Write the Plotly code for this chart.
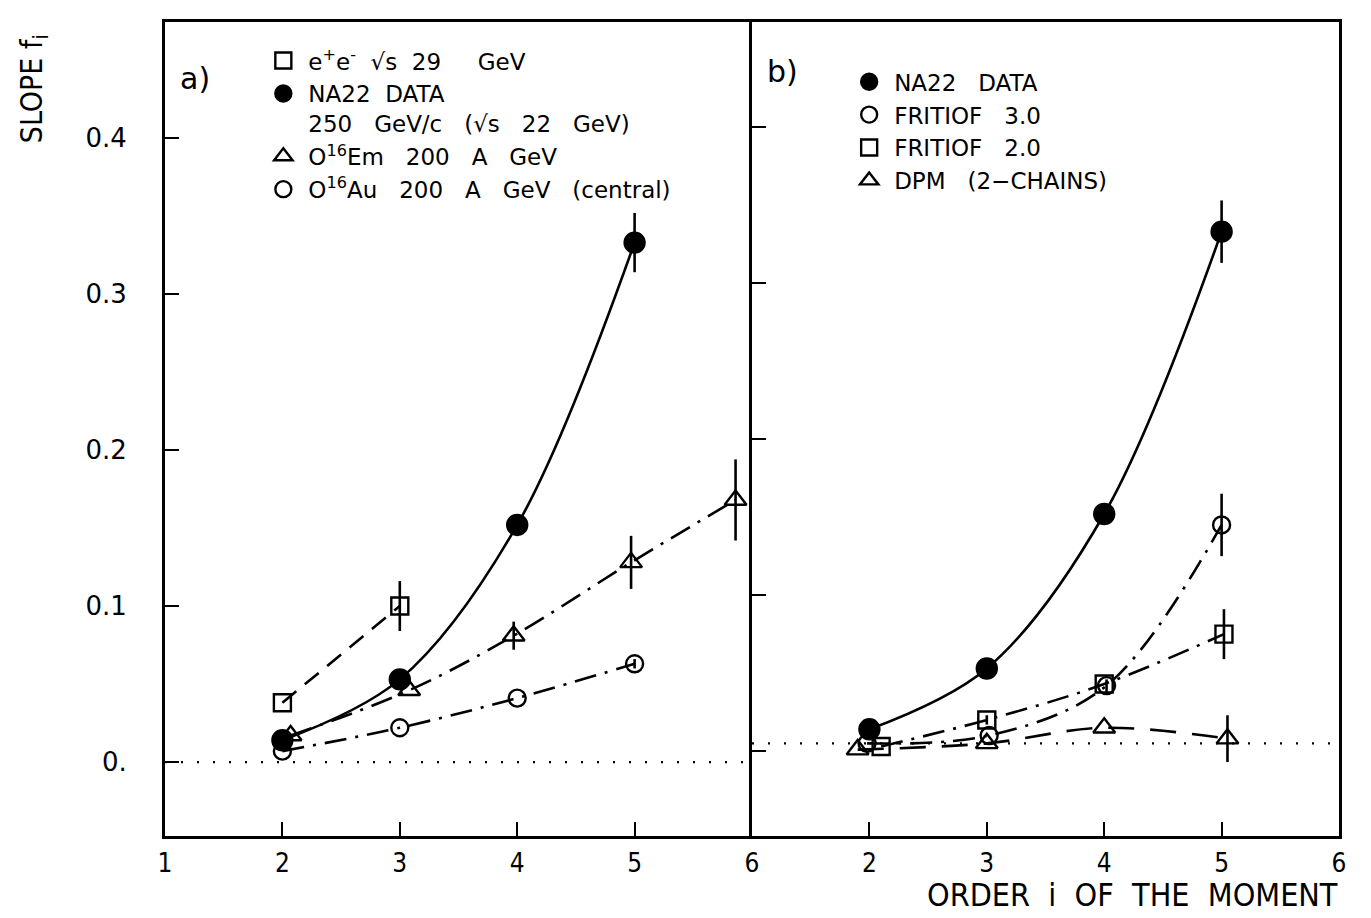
import plotly.graph_objects as go

# ---------------- data ----------------
# panel a
ee_x = [2, 3]
ee_y = [0.038, 0.100]
ee_err = [0.0, 0.016]

na22_x = [2, 3, 4, 5]
na22_y = [0.014, 0.053, 0.152, 0.333]
na22_err = [0.002, 0.003, 0.005, 0.019]

em_x = [2.07, 3.08, 3.97, 4.97, 5.86]
em_y = [0.017, 0.046, 0.081, 0.128, 0.168]
em_err = [0.0, 0.0, 0.009, 0.017, 0.026]

au_x = [2, 3, 4, 5]
au_y = [0.007, 0.022, 0.041, 0.063]
au_err = [0.0, 0.0, 0.0, 0.003]

# panel b
na22b_err = [0.002, 0.003, 0.005, 0.020]

fr3_x = [1.98, 3.02, 4.02, 5.0]
fr3_y = [0.005, 0.010, 0.042, 0.145]
fr3_err = [0.0, 0.0, 0.004, 0.020]

fr2_x = [2.1, 3.0, 4.0, 5.02]
fr2_y = [0.003, 0.020, 0.043, 0.075]
fr2_err = [0.0, 0.003, 0.0, 0.016]

dpm_x = [1.9, 3.0, 4.0, 5.05]
dpm_y = [0.001, 0.005, 0.015, 0.008]
dpm_err = [0.0, 0.0, 0.0, 0.015]

zero_x = [1, 6]
zero_a = [0.0, 0.0]
zero_b = [0.005, 0.005]

x_ticks_a = [1, 2, 3, 4, 5, 6]
x_ticks_b = [2, 3, 4, 5, 6]
y_ticks = [0.0, 0.1, 0.2, 0.3, 0.4]
y_tick_text = ["0.", "0.1", "0.2", "0.3", "0.4"]

legend_a = ["e<sup>+</sup>e<sup>-</sup>  √s  29     GeV",
            "NA22  DATA<br>250   GeV/c   (√s   22   GeV)",
            "O<sup>16</sup>Em   200   A   GeV",
            "O<sup>16</sup>Au   200   A   GeV   (central)"]
legend_b = ["NA22   DATA", "FRITIOF   3.0", "FRITIOF   2.0", "DPM   (2−CHAINS)"]

# ---------------- styling ----------------
BLACK = "#000000"
FONT = "DejaVu Sans"
COND = "DejaVu Sans Condensed, Liberation Sans Narrow, Roboto Condensed, DejaVu Sans"
LW = 2.6

fig = go.Figure()


def err(vals):
    return dict(type="data", array=vals, visible=True, color=BLACK, thickness=2.6, width=0)


def series(x, y, e, symbol, size, dash, xa, ya, shape="spline"):
    fig.add_trace(go.Scatter(
        x=x, y=y, mode="lines+markers", xaxis=xa, yaxis=ya,
        line=dict(color=BLACK, width=LW, dash=dash, shape=shape, smoothing=1.0),
        marker=dict(symbol=symbol, size=size, color=BLACK,
                    line=dict(color=BLACK, width=2.4)),
        error_y=err(e), showlegend=False, hoverinfo="skip"))


# dotted zero lines
fig.add_trace(go.Scatter(x=zero_x, y=zero_a, mode="lines", xaxis="x", yaxis="y",
                         line=dict(color=BLACK, width=2.2, dash="2px,14px"),
                         showlegend=False, hoverinfo="skip"))
fig.add_trace(go.Scatter(x=zero_x, y=zero_b, mode="lines", xaxis="x2", yaxis="y2",
                         line=dict(color=BLACK, width=2.2, dash="2px,14px"),
                         showlegend=False, hoverinfo="skip"))

DASH = "18px,11px"
DASHDOT = "22px,9px,3px,9px"
LONGDASH = "26px,16px"

# panel a
series(au_x, au_y, au_err, "circle-open", 17, DASHDOT, "x", "y")
series(em_x, em_y, em_err, "triangle-up-open", 19, DASHDOT, "x", "y")
series(ee_x, ee_y, ee_err, "square-open", 17, DASH, "x", "y", shape="linear")
series(na22_x, na22_y, na22_err, "circle", 20, "solid", "x", "y")

# panel b
series(dpm_x, dpm_y, dpm_err, "triangle-up-open", 19, LONGDASH, "x2", "y2")
series(fr2_x, fr2_y, fr2_err, "square-open", 17, DASHDOT, "x2", "y2")
series(fr3_x, fr3_y, fr3_err, "circle-open", 17, DASHDOT, "x2", "y2")
series(na22_x, na22_y, na22b_err, "circle", 20, "solid", "x2", "y2")

# legend-only entries (markers only)
sym_a = ["square-open", "circle", "triangle-up-open", "circle-open"]
sym_b = ["circle", "circle-open", "square-open", "triangle-up-open"]
for name, s in zip(legend_a, sym_a):
    fig.add_trace(go.Scatter(x=[None], y=[None], mode="markers", name=name, legend="legend",
                             marker=dict(symbol=s, size=16, color=BLACK,
                                         line=dict(color=BLACK, width=2.4))))
for name, s in zip(legend_b, sym_b):
    fig.add_trace(go.Scatter(x=[None], y=[None], mode="markers", name=name, legend="legend2",
                             marker=dict(symbol=s, size=16, color=BLACK,
                                         line=dict(color=BLACK, width=2.4))))

axis_common = dict(showline=True, linecolor=BLACK, linewidth=3,
                   ticks="inside", ticklen=14, tickwidth=2, tickcolor=BLACK,
                   showgrid=False, zeroline=False)
YR = [-0.0474, 0.4744]
YR_B = [-0.0544, 0.4674]

fig.update_layout(
    width=1371, height=918,
    margin=dict(l=157, r=40, t=14, b=90),
    paper_bgcolor="white", plot_bgcolor="white",
    xaxis=dict(domain=[0, 0.5], range=[1, 6], tickvals=x_ticks_a, mirror=True,
               tickfont=dict(family=COND, size=26, color=BLACK), ticklabelstandoff=2,
               **axis_common),
    xaxis2=dict(domain=[0.5, 1], range=[1, 6], tickvals=x_ticks_b, anchor="y2", mirror=True,
                tickfont=dict(family=COND, size=26, color=BLACK), ticklabelstandoff=2,
                **axis_common),
    yaxis=dict(range=YR, tickvals=y_ticks, ticktext=y_tick_text, mirror=False,
               tickfont=dict(family=FONT, size=26, color=BLACK), ticklabelstandoff=30,
               **axis_common),
    yaxis2=dict(range=YR_B, tickvals=y_ticks, showticklabels=False, anchor="x2", mirror=True,
                **axis_common),
    legend=dict(x=0.0795, y=0.979, xanchor="left", yanchor="top",
                font=dict(family=FONT, size=23, color=BLACK), bgcolor="rgba(0,0,0,0)",
                valign="top", tracegroupgap=0, itemwidth=40),
    legend2=dict(x=0.5785, y=0.953, xanchor="left", yanchor="top",
                 font=dict(family=FONT, size=23, color=BLACK), bgcolor="rgba(0,0,0,0)",
                 valign="top", tracegroupgap=0, itemwidth=40),
    annotations=[
        dict(text="a)", xref="paper", yref="paper", x=0.0256, y=0.931,
             xanchor="center", yanchor="middle", showarrow=False,
             font=dict(family=FONT, size=30, color=BLACK)),
        dict(text="b)", xref="paper", yref="paper", x=0.5256, y=0.9386,
             xanchor="center", yanchor="middle", showarrow=False,
             font=dict(family=FONT, size=30, color=BLACK)),
        dict(text="SLOPE f<sub>i</sub>", xref="paper", yref="paper", x=-0.112, y=0.918,
             xanchor="center", yanchor="middle", textangle=-90, showarrow=False,
             font=dict(family=COND, size=30, color=BLACK)),
        dict(text="ORDER  i  OF  THE  MOMENT", xref="paper", yref="paper", x=1.001, y=-0.072,
             xanchor="right", yanchor="middle", showarrow=False,
             font=dict(family=COND, size=32, color=BLACK)),
    ],
)

fig.write_html("out.html")
